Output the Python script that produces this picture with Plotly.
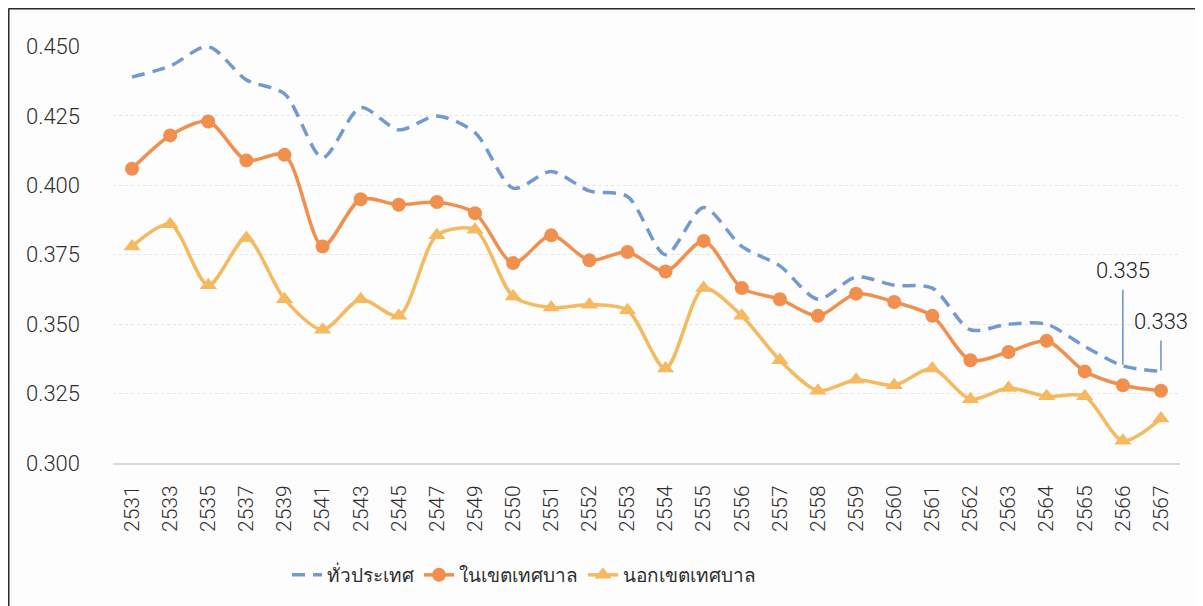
import plotly.graph_objects as go

# ---------------- data ----------------
years = ["2531", "2533", "2535", "2537", "2539", "2541", "2543", "2545", "2547", "2549",
         "2550", "2551", "2552", "2553", "2554", "2555", "2556", "2557", "2558", "2559",
         "2560", "2561", "2562", "2563", "2564", "2565", "2566", "2567"]

whole_country = [0.439, 0.443, 0.450, 0.438, 0.433, 0.410, 0.428, 0.420, 0.425, 0.419,
                 0.399, 0.405, 0.398, 0.396, 0.375, 0.392, 0.378, 0.371, 0.359, 0.367,
                 0.364, 0.363, 0.348, 0.350, 0.350, 0.342, 0.335, 0.333]

municipal = [0.406, 0.418, 0.423, 0.409, 0.411, 0.378, 0.395, 0.393, 0.394, 0.390,
             0.372, 0.382, 0.373, 0.376, 0.369, 0.380, 0.363, 0.359, 0.353, 0.361,
             0.358, 0.353, 0.337, 0.340, 0.344, 0.333, 0.328, 0.326]

non_municipal = [0.378, 0.386, 0.364, 0.381, 0.359, 0.348, 0.359, 0.353, 0.382, 0.384,
                 0.360, 0.356, 0.357, 0.355, 0.334, 0.363, 0.353, 0.337, 0.326, 0.330,
                 0.328, 0.334, 0.323, 0.327, 0.324, 0.324, 0.308, 0.316]

series_names = ["ทั่วประเทศ", "ในเขตเทศบาล", "นอกเขตเทศบาล"]
y_ticks = [0.300, 0.325, 0.350, 0.375, 0.400, 0.425, 0.450]
y_tick_text = ["0.300", "0.325", "0.350", "0.375", "0.400", "0.425", "0.450"]
label_years = ["2566", "2567"]
label_texts = ["0.335", "0.333"]
label_offsets = [-95, -50]   # pixel offset of label above its point

# ---------------- style ----------------
OFF = 8                      # page body margin of the html page
W, H = 1203 - OFF, 606 - OFF
PLOT_X0, PLOT_X1 = 113 - OFF, 1180 - OFF
PLOT_Y0, PLOT_Y1 = 46 - OFF, 463 - OFF
L, R, T, B = PLOT_X0, W - PLOT_X1, PLOT_Y0, H - PLOT_Y1

BLUE = "#7399cf"
ORANGE = "#f08f4e"
YELLOW = "#f5b95f"
TXT = "#2e2e2e"
FONT = "Roboto, Liberation Sans, sans-serif"


def page_x(px):
    return (px - OFF - L) / (W - L - R)


def page_y(py):
    return (H - B - (py - OFF)) / (H - T - B)


fig = go.Figure()
fig.add_trace(go.Scatter(
    x=years, y=whole_country, name=series_names[0], mode="lines",
    line=dict(color=BLUE, width=3.5, dash="13px,8px", shape="spline", smoothing=0.8),
    cliponaxis=False))
fig.add_trace(go.Scatter(
    x=years, y=municipal, name=series_names[1], mode="lines+markers",
    line=dict(color=ORANGE, width=3.5, shape="spline", smoothing=0.8),
    marker=dict(symbol="circle", size=14, color=ORANGE),
    cliponaxis=False))
fig.add_trace(go.Scatter(
    x=years, y=non_municipal, name=series_names[2], mode="lines+markers",
    line=dict(color=YELLOW, width=3.5, shape="spline", smoothing=0.8),
    marker=dict(symbol="triangle-up", size=15, color=YELLOW),
    cliponaxis=False))

# value labels with leader lines
for yr, txt, ay in zip(label_years, label_texts, label_offsets):
    idx = years.index(yr)
    fig.add_annotation(
        x=idx, y=whole_country[idx], xref="x", yref="y",
        text=txt, showarrow=True, arrowhead=0, arrowwidth=1.6,
        arrowcolor=BLUE, ax=0, ay=ay, standoff=1,
        font=dict(size=22, color="#222222", family=FONT, weight=300), borderpad=6)

# outer frame (top and left edges visible)
fig.add_shape(type="line", xref="paper", yref="paper",
              x0=page_x(OFF + 0.5), x1=page_x(1215),
              y0=page_y(OFF + 0.5), y1=page_y(OFF + 0.5),
              line=dict(color="#2b2b2b", width=2))
fig.add_shape(type="line", xref="paper", yref="paper",
              x0=page_x(OFF + 0.5), x1=page_x(OFF + 0.5),
              y0=page_y(OFF + 0.5), y1=page_y(620),
              line=dict(color="#2b2b2b", width=2))

fig.update_layout(
    width=W, height=H,
    margin=dict(l=L, r=R, t=T, b=B),
    paper_bgcolor="#fdfdfd", plot_bgcolor="#fdfdfd",
    font=dict(family=FONT, size=20, color=TXT, weight=300),
    showlegend=True,
    legend=dict(orientation="h", x=page_x(524), xanchor="center",
                y=page_y(575), yanchor="middle",
                font=dict(size=19, color=TXT, family=FONT, weight=300),
                bgcolor="rgba(0,0,0,0)"),
    xaxis=dict(type="category", range=[-0.5, len(years) - 0.5],
               tickangle=-90, showgrid=False, showline=True,
               linecolor="#d9d9d9", linewidth=2, ticks="", ticklabelstandoff=12,
               tickfont=dict(size=21, color=TXT, family=FONT, weight=300), zeroline=False),
    yaxis=dict(range=[0.300, 0.4502], tickvals=y_ticks, ticktext=y_tick_text,
               showgrid=True, gridcolor="#e4e4e4", griddash="dot", gridwidth=1,
               zeroline=False, showline=False, ticks="", ticklabelstandoff=32,
               tickfont=dict(size=22, color=TXT, family=FONT, weight=300)),
)

fig.write_html("out.html")
